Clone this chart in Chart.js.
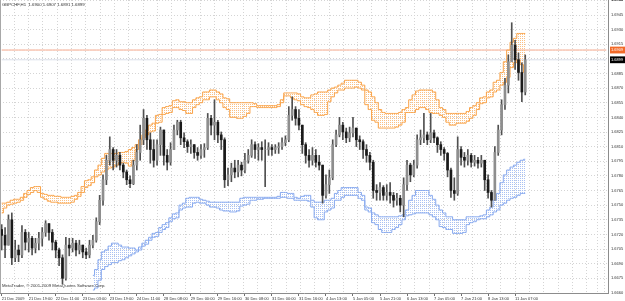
<!DOCTYPE html>
<html><head><meta charset="utf-8">
<script src="https://cdn.jsdelivr.net/npm/chart.js@4/dist/chart.umd.min.js"></script>
<style>
html,body{margin:0;padding:0;background:#fff;}
#wrap{position:relative;width:625px;height:301px;overflow:hidden;}
.txt{position:absolute;font-family:'Liberation Sans',Arial,sans-serif;font-size:4.3px;line-height:5px;color:#333;white-space:pre;}
#title{left:2px;top:2px;}
#copy{left:2px;top:283px;}
#lb{position:absolute;left:0;top:0;width:1px;height:293px;background:#a8a8a8;}
</style></head><body>
<div id="wrap"><canvas id="c"></canvas><div id="lb"></div>
<div id="title" class="txt">GBPCHF,H1  1.6900 1.6907 1.6891 1.6899</div>
<div id="copy" class="txt">MetaTrader, © 2001-2009 MetaQuotes Software Corp.</div></div>
<script>
const tickLabels = ['21 Dec 2009','21 Dec 19:00','22 Dec 11:00','23 Dec 03:00','23 Dec 19:00','24 Dec 11:00','28 Dec 08:00','29 Dec 00:00','29 Dec 16:00','30 Dec 08:00','31 Dec 00:00','31 Dec 16:00','4 Jan 13:00','5 Jan 05:00','5 Jan 21:00','6 Jan 13:00','7 Jan 05:00','7 Jan 21:00','8 Jan 13:00','11 Jan 07:00'];
const slotCount = 180;
const labelEvery = 8;

const firstOpen = 1.6725;
const closes = [
1.6719,1.6709,1.6735,1.6696,1.6704,1.6699,1.6722,1.6712,1.6716,1.6706,
1.6711,1.6716,1.6722,1.6731,1.6722,1.6712,1.6704,1.6696,1.6675,1.6709,
1.6706,1.6711,1.6704,1.6709,1.6702,1.6699,1.6709,1.6714,1.6733,1.6755,
1.6776,1.6796,1.6807,1.6796,1.6801,1.6791,1.6784,1.6776,1.6772,1.6791,
1.6804,1.6817,1.6839,1.6817,1.6807,1.6796,1.6812,1.6827,1.6801,1.6794,
1.6807,1.6827,1.6835,1.6819,1.6815,1.6810,1.6812,1.6804,1.6801,1.6807,
1.6809,1.6839,1.6832,1.6835,1.6822,1.6817,1.6776,1.6781,1.6788,1.6784,
1.6791,1.6786,1.6796,1.6801,1.6812,1.6807,1.6809,1.6807,1.6807,1.6809,
1.6807,1.6809,1.6810,1.6814,1.6817,1.6842,1.6848,1.6839,1.6832,1.6812,
1.6801,1.6796,1.6801,1.6794,1.6791,1.6760,1.6771,1.6778,1.6812,1.6822,
1.6832,1.6825,1.6819,1.6824,1.6829,1.6817,1.6815,1.6807,1.6801,1.6794,
1.6765,1.6763,1.6768,1.6760,1.6763,1.6760,1.6755,1.6757,1.6750,1.6771,
1.6791,1.6781,1.6791,1.6817,1.6819,1.6822,1.6817,1.6824,1.6819,1.6812,
1.6807,1.6803,1.6786,1.6765,1.6762,1.6807,1.6799,1.6796,1.6801,1.6794,
1.6796,1.6793,1.6796,1.6776,1.6763,1.6755,1.6804,1.6827,1.6853,1.6873,
1.6897,1.6914,1.6899,1.6886,1.6866,1.6899];
const highs = [
1.6730,1.6727,1.6740,1.6742,1.6714,1.6709,1.6729,1.6725,1.6722,1.6718,
1.6716,1.6722,1.6727,1.6734,1.6731,1.6725,1.6714,1.6706,1.6699,1.6717,
1.6716,1.6716,1.6714,1.6714,1.6709,1.6706,1.6714,1.6719,1.6737,1.6760,
1.6781,1.6801,1.6820,1.6809,1.6807,1.6804,1.6793,1.6786,1.6780,1.6796,
1.6812,1.6832,1.6848,1.6842,1.6824,1.6817,1.6817,1.6830,1.6827,1.6807,
1.6814,1.6832,1.6837,1.6837,1.6824,1.6817,1.6817,1.6812,1.6809,1.6812,
1.6813,1.6844,1.6842,1.6858,1.6837,1.6825,1.6819,1.6788,1.6793,1.6796,
1.6796,1.6794,1.6803,1.6807,1.6817,1.6815,1.6813,1.6815,1.6817,1.6814,
1.6812,1.6812,1.6814,1.6819,1.6821,1.6851,1.6861,1.6851,1.6848,1.6832,
1.6814,1.6807,1.6809,1.6807,1.6801,1.6791,1.6781,1.6786,1.6817,1.6827,
1.6840,1.6835,1.6829,1.6830,1.6840,1.6829,1.6821,1.6817,1.6812,1.6804,
1.6796,1.6771,1.6773,1.6770,1.6771,1.6773,1.6763,1.6762,1.6760,1.6778,
1.6796,1.6793,1.6796,1.6822,1.6827,1.6844,1.6825,1.6844,1.6827,1.6820,
1.6815,1.6809,1.6804,1.6788,1.6778,1.6820,1.6810,1.6804,1.6807,1.6803,
1.6801,1.6799,1.6801,1.6796,1.6781,1.6765,1.6810,1.6832,1.6858,1.6880,
1.6904,1.6937,1.6919,1.6906,1.6896,1.6904];
const lows = [
1.6704,1.6696,1.6709,1.6689,1.6692,1.6692,1.6696,1.6704,1.6702,1.6699,
1.6701,1.6704,1.6708,1.6718,1.6714,1.6704,1.6696,1.6688,1.6669,1.6673,
1.6698,1.6702,1.6698,1.6700,1.6696,1.6695,1.6696,1.6706,1.6712,1.6730,
1.6750,1.6771,1.6791,1.6786,1.6789,1.6786,1.6778,1.6771,1.6768,1.6771,
1.6786,1.6796,1.6812,1.6807,1.6793,1.6789,1.6791,1.6801,1.6791,1.6786,
1.6791,1.6807,1.6822,1.6812,1.6809,1.6804,1.6803,1.6798,1.6796,1.6798,
1.6799,1.6807,1.6822,1.6817,1.6814,1.6807,1.6768,1.6770,1.6774,1.6778,
1.6779,1.6780,1.6783,1.6793,1.6799,1.6798,1.6796,1.6796,1.6769,1.6801,
1.6801,1.6803,1.6803,1.6807,1.6811,1.6815,1.6837,1.6832,1.6827,1.6803,
1.6793,1.6789,1.6791,1.6789,1.6786,1.6752,1.6757,1.6762,1.6776,1.6810,
1.6820,1.6817,1.6814,1.6815,1.6820,1.6810,1.6807,1.6798,1.6794,1.6786,
1.6757,1.6755,1.6755,1.6755,1.6755,1.6752,1.6748,1.6750,1.6743,1.6738,
1.6765,1.6774,1.6779,1.6788,1.6812,1.6814,1.6812,1.6814,1.6814,1.6804,
1.6801,1.6796,1.6779,1.6758,1.6755,1.6760,1.6791,1.6789,1.6791,1.6789,
1.6790,1.6788,1.6789,1.6765,1.6757,1.6748,1.6755,1.6801,1.6822,1.6848,
1.6865,1.6897,1.6889,1.6878,1.6856,1.6863];

const orangeTop = [
1.6752,1.6752,1.6753,1.6755,1.6756,1.6756,1.6758,1.6762,1.6765,1.6768,
1.6769,1.6769,1.6762,1.6761,1.6760,1.6760,1.6759,1.6759,1.6758,1.6758,
1.6758,1.6759,1.6760,1.6763,1.6769,1.6775,1.6776,1.6779,1.6786,1.6791,
1.6798,1.6803,1.6803,1.6803,1.6803,1.6804,1.6804,1.6805,1.6807,1.6809,
1.6812,1.6817,1.6822,1.6827,1.6832,1.6834,1.6842,1.6843,1.6850,1.6851,
1.6852,1.6857,1.6858,1.6856,1.6856,1.6855,1.6855,1.6858,1.6860,1.6861,
1.6866,1.6866,1.6868,1.6868,1.6866,1.6864,1.6860,1.6859,1.6855,1.6855,
1.6855,1.6855,1.6855,1.6855,1.6855,1.6854,1.6852,1.6852,1.6852,1.6852,
1.6852,1.6852,1.6853,1.6858,1.6865,1.6865,1.6865,1.6865,1.6864,1.6861,
1.6860,1.6860,1.6863,1.6864,1.6866,1.6866,1.6866,1.6868,1.6870,1.6871,
1.6873,1.6875,1.6878,1.6878,1.6878,1.6878,1.6876,1.6873,1.6868,1.6866,
1.6861,1.6855,1.6848,1.6845,1.6844,1.6844,1.6844,1.6844,1.6845,1.6848,
1.6850,1.6858,1.6863,1.6867,1.6868,1.6868,1.6868,1.6868,1.6866,1.6858,
1.6850,1.6848,1.6844,1.6844,1.6844,1.6844,1.6844,1.6844,1.6846,1.6850,
1.6852,1.6855,1.6860,1.6861,1.6866,1.6868,1.6876,1.6878,1.6886,1.6897,
1.6909,1.6917,1.6921,1.6926,1.6926,1.6926];
const orangeBottom = [
1.6742,1.6747,1.6750,1.6751,1.6752,1.6753,1.6755,1.6758,1.6761,1.6763,
1.6765,1.6763,1.6758,1.6756,1.6754,1.6753,1.6753,1.6752,1.6752,1.6752,
1.6752,1.6753,1.6756,1.6759,1.6763,1.6768,1.6770,1.6773,1.6779,1.6781,
1.6784,1.6786,1.6788,1.6789,1.6791,1.6793,1.6794,1.6793,1.6790,1.6796,
1.6807,1.6812,1.6819,1.6822,1.6825,1.6826,1.6834,1.6835,1.6843,1.6844,
1.6845,1.6850,1.6850,1.6848,1.6847,1.6844,1.6844,1.6850,1.6853,1.6855,
1.6858,1.6858,1.6861,1.6861,1.6858,1.6855,1.6850,1.6848,1.6840,1.6840,
1.6839,1.6839,1.6841,1.6844,1.6851,1.6851,1.6850,1.6850,1.6850,1.6850,
1.6850,1.6850,1.6851,1.6855,1.6862,1.6862,1.6860,1.6858,1.6857,1.6853,
1.6851,1.6850,1.6848,1.6845,1.6842,1.6842,1.6843,1.6856,1.6861,1.6865,
1.6868,1.6868,1.6870,1.6870,1.6870,1.6871,1.6870,1.6868,1.6853,1.6848,
1.6837,1.6835,1.6829,1.6829,1.6829,1.6829,1.6829,1.6830,1.6832,1.6835,
1.6845,1.6845,1.6845,1.6848,1.6850,1.6850,1.6848,1.6845,1.6844,1.6844,
1.6842,1.6840,1.6835,1.6832,1.6832,1.6834,1.6834,1.6834,1.6836,1.6839,
1.6842,1.6848,1.6854,1.6855,1.6860,1.6861,1.6866,1.6868,1.6873,1.6876,
1.6881,1.6891,1.6896,1.6899,1.6894,1.6886];
const blueTop = [
null,null,null,null,null,null,null,null,null,null,
null,null,null,null,null,null,null,null,null,null,
null,null,null,null,null,null,null,1.6678,1.6684,1.6694,
1.6702,1.6704,1.6708,1.6711,1.6711,1.6709,1.6707,1.6707,1.6706,1.6706,
1.6704,1.6707,1.6711,1.6714,1.6717,1.6721,1.6722,1.6727,1.6730,1.6732,
1.6737,1.6741,1.6742,1.6750,1.6752,1.6757,1.6758,1.6758,1.6758,1.6756,
1.6755,1.6754,1.6753,1.6753,1.6753,1.6753,1.6753,1.6753,1.6753,1.6753,
1.6753,1.6757,1.6758,1.6758,1.6758,1.6758,1.6758,1.6758,1.6758,1.6758,
1.6758,1.6758,1.6759,1.6763,1.6763,1.6762,1.6762,1.6758,1.6757,1.6759,
1.6760,1.6760,1.6755,1.6753,1.6753,1.6753,1.6755,1.6755,1.6757,1.6762,
1.6765,1.6768,1.6768,1.6768,1.6768,1.6768,1.6763,1.6760,1.6748,1.6747,
1.6742,1.6740,1.6738,1.6738,1.6738,1.6738,1.6738,1.6738,1.6739,1.6740,
1.6745,1.6755,1.6760,1.6765,1.6765,1.6765,1.6765,1.6760,1.6756,1.6750,
1.6745,1.6742,1.6738,1.6738,1.6735,1.6735,1.6735,1.6735,1.6738,1.6738,
1.6738,1.6738,1.6739,1.6740,1.6745,1.6748,1.6755,1.6762,1.6773,1.6781,
1.6786,1.6789,1.6791,1.6794,1.6796,1.6797];
const blueBottom = [
null,null,null,null,null,null,null,null,null,null,
null,null,null,null,null,null,null,null,null,null,
null,null,null,null,null,null,null,1.6663,1.6665,1.6673,
1.6684,1.6687,1.6689,1.6691,1.6691,1.6693,1.6694,1.6696,1.6698,1.6700,
1.6702,1.6704,1.6708,1.6710,1.6714,1.6717,1.6718,1.6722,1.6725,1.6727,
1.6733,1.6736,1.6737,1.6745,1.6747,1.6748,1.6748,1.6752,1.6753,1.6752,
1.6752,1.6750,1.6748,1.6748,1.6747,1.6745,1.6744,1.6744,1.6743,1.6743,
1.6744,1.6749,1.6750,1.6751,1.6755,1.6755,1.6756,1.6756,1.6757,1.6757,
1.6757,1.6757,1.6757,1.6758,1.6758,1.6757,1.6757,1.6755,1.6755,1.6755,
1.6755,1.6754,1.6748,1.6737,1.6735,1.6735,1.6743,1.6745,1.6747,1.6755,
1.6755,1.6758,1.6760,1.6760,1.6760,1.6760,1.6757,1.6755,1.6745,1.6743,
1.6732,1.6730,1.6725,1.6722,1.6722,1.6722,1.6725,1.6727,1.6730,1.6735,
1.6739,1.6740,1.6741,1.6742,1.6742,1.6742,1.6742,1.6740,1.6738,1.6735,
1.6728,1.6727,1.6725,1.6725,1.6721,1.6721,1.6721,1.6722,1.6730,1.6732,
1.6733,1.6735,1.6736,1.6736,1.6738,1.6740,1.6743,1.6745,1.6750,1.6752,
1.6755,1.6757,1.6758,1.6760,1.6762,1.6762];

const levelLine = 1.6909;   // salmon horizontal line / orange price box
const lastPrice = 1.6899;   // last close / black price box
const yMin = 1.66599, yMax = 1.69603, yStep = 0.0015;

// ---- derived structures ----
const cats = Array.from({length: slotCount}, (_, i) =>
  (i % labelEvery === 0 && tickLabels[i / labelEvery]) ? tickLabels[i / labelEvery] : '');
const opens = closes.map((c, i) => i === 0 ? firstOpen : closes[i - 1]);
const wickData = highs.map((h, i) => [lows[i], h]);
const bodyData = closes.map((c, i) => [opens[i], c]);
const levelData = cats.map(() => levelLine);
const lastData = cats.map(() => lastPrice);

function dotPattern(color) {
  const c = document.createElement('canvas');
  c.width = 2; c.height = 2;
  const g = c.getContext('2d');
  g.fillStyle = color;
  g.fillRect(0, 0, 1, 1);
  return g.createPattern(c, 'repeat');
}
const ORANGE = '#f9a349', BLUE = '#86a8ee';
const isExtra = v => v === levelLine || v === lastPrice;
const FONT = "'Liberation Sans', Arial, sans-serif";
const GRID = '#d4d4d4';

new Chart(document.getElementById('c'), {
  type: 'bar',
  data: {
    labels: cats,
    datasets: [
      {type:'line', data: orangeTop, borderColor: ORANGE, borderWidth: 1, pointRadius: 0, stepped: 'middle', fill: false, order: 5},
      {type:'line', data: orangeBottom, borderColor: ORANGE, borderWidth: 1, pointRadius: 0, stepped: 'middle', fill: '-1', backgroundColor: dotPattern('#fbc084'), order: 5},
      {type:'line', data: blueTop, borderColor: BLUE, borderWidth: 1, pointRadius: 0, stepped: 'middle', fill: false, order: 5},
      {type:'line', data: blueBottom, borderColor: BLUE, borderWidth: 1, pointRadius: 0, stepped: 'middle', fill: '-1', backgroundColor: dotPattern('#a9c1f3'), order: 5},
      {type:'line', data: levelData, borderColor: '#f2a58a', borderWidth: 1, pointRadius: 0, fill: false, order: 6},
      {type:'line', data: lastData, borderColor: '#d9dde8', borderWidth: 1, pointRadius: 0, fill: false, order: 6},
      {data: wickData, backgroundColor: '#505050', barThickness: 1, grouped: false, order: 2},
      {data: bodyData, backgroundColor: ctx => (closes[ctx.dataIndex] >= opens[ctx.dataIndex]) ? '#8e8e8e' : '#1a1a1a', barThickness: 2, grouped: false, order: 1}
    ]
  },
  options: {
    responsive: true, maintainAspectRatio: false, animation: false, devicePixelRatio: 1,
    layout: {padding: 0},
    plugins: {legend: {display: false}, tooltip: {enabled: false}, title: {display: false}},
    scales: {
      x: {
        type: 'category', offset: true,
        grid: {display: true, drawOnChartArea: false, drawTicks: true, tickLength: 3, offset: false,
               color: ctx => (ctx.tick && ctx.tick.label) ? '#707070' : 'rgba(0,0,0,0)'},
        border: {display: true, color: '#8c8c8c'},
        ticks: {autoSkip: false, maxRotation: 0, minRotation: 0, align: 'start', padding: 0,
                font: {size: 4, family: FONT}, color: '#333', callback: (v, i) => cats[i]},
        afterFit(s) { s.height = 8; s.paddingLeft = 0; s.paddingRight = 0; }
      },
      xg: {
        type: 'linear', position: 'top', bounds: 'data', min: -0.375, max: 41.125,
        grid: {color: GRID, drawTicks: false},
        border: {display: false, dash: [1, 2]},
        ticks: {display: false, stepSize: 1, includeBounds: false},
        afterFit(s) { s.height = 0; s.paddingLeft = 0; s.paddingRight = 0; }
      },
      y: {
        position: 'right', bounds: 'data', min: yMin, max: yMax,
        grid: {drawTicks: false, color: ctx => (ctx.tick && isExtra(ctx.tick.value)) ? 'rgba(0,0,0,0)' : GRID},
        border: {display: true, color: '#8c8c8c', dash: [1, 2]},
        ticks: {stepSize: yStep, includeBounds: false, autoSkip: false, padding: 3,
                font: {size: 4, family: FONT},
                color: ctx => (ctx.tick && isExtra(ctx.tick.value)) ? '#ffffff' : '#333',
                showLabelBackdrop: ctx => !!(ctx.tick && isExtra(ctx.tick.value)),
                backdropColor: ctx => (ctx.tick && ctx.tick.value === levelLine) ? '#f26a28' : '#000000',
                backdropPadding: {top: 1, bottom: 1, left: 1, right: 3},
                callback: v => Number(v).toFixed(4)},
        afterBuildTicks(s) { s.ticks.push({value: levelLine}, {value: lastPrice}); },
        afterFit(s) { s.width = 17; s.paddingTop = 0; s.paddingBottom = 0; }
      }
    }
  }
});
</script>
</body></html>
